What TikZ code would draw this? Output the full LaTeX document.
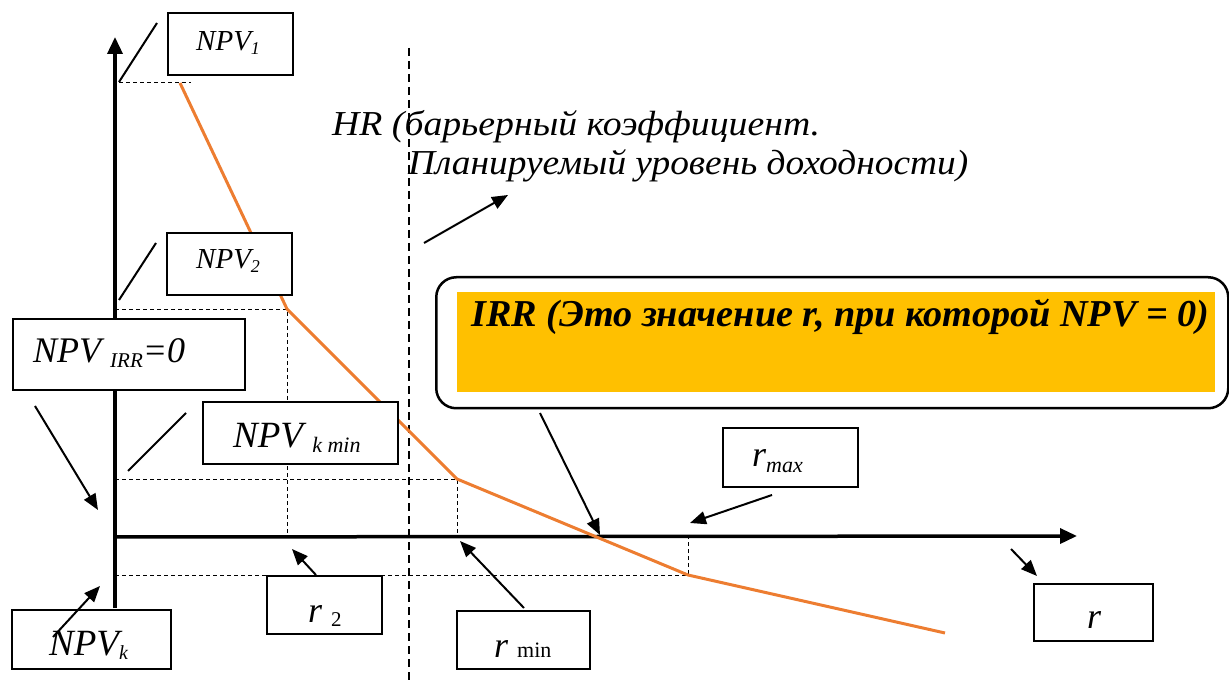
\documentclass[tikz,border=0pt]{standalone}
\usepackage{fontspec}
\setmainfont{Liberation Serif}
\usetikzlibrary{arrows.meta}
\definecolor{curve}{HTML}{ED7D31}
\definecolor{gold}{HTML}{FFC000}
\newcommand\subt[3]{\raisebox{-#1pt}{\fontsize{#2}{#2}\selectfont #3}}
\newcommand\fs[1]{\fontsize{#1}{#1}\selectfont}
\begin{document}
\begin{tikzpicture}[x=1pt,y=-1pt,
  box/.style={draw, line width=2pt, fill=white, anchor=north west, inner sep=0pt},
  lbl/.style={anchor=base west, inner sep=0pt, font=\itshape},
  helper/.style={line width=0.9pt, dash pattern=on 4pt off 3pt},
  hrline/.style={line width=1.6pt, dash pattern=on 8pt off 5pt},
  axis/.style={line width=3.5pt, -{Triangle[length=17pt,width=15pt]}},
  ptr/.style={line width=2pt, -{Triangle[length=16pt,width=13pt]}},
  tickline/.style={line width=2pt},
]
\useasboundingbox (0,0) rectangle (1229,684);

% helper dashed lines
\draw[helper] (119,82) -- (191,82);
\draw[helper] (115,309) -- (287,309) -- (287,537);
\draw[helper] (115,479) -- (457,479) -- (457,537);
\draw[helper] (115,575) -- (688,575) -- (688,537);
\draw[hrline] (409,48) -- (409,684);

% axes
\coordinate (o) at (115,537);
\coordinate (ybot) at (115,608);
\coordinate (ytop) at (115,37);
\coordinate (xtip) at (1077,536);
\draw[axis] (ybot) -- (ytop);
\draw[axis] (o) -- (xtip);

% NPV curve
\draw[curve, line width=3pt, line join=round] (180,83) -- (287,309) -- (457,479) -- (688,575) -- (945,633);

% boxes
\node[box, minimum width=125pt, minimum height=62pt] (bnpv1) at (167,12) {};
\node[box, minimum width=125pt, minimum height=62pt] (bnpv2) at (166,232) {};
\node[box, minimum width=232pt, minimum height=71pt] (birr0) at (12,318) {};
\node[box, minimum width=195pt, minimum height=62pt] (bkmin) at (202,401) {};
\node[box, minimum width=115pt, minimum height=58pt] (br2) at (266,575) {};
\node[box, minimum width=159pt, minimum height=59pt] (bnpvk) at (11,609) {};
\node[box, minimum width=135pt, minimum height=59pt] (brmax) at (722,427) {};
\node[box, minimum width=133pt, minimum height=58pt] (brmin) at (456,610) {};
\node[box, minimum width=119pt, minimum height=57pt] (br) at (1033,583) {};

% texts in boxes
\node[lbl, font=\itshape\fs{29}] (tnpv1) at (196,51) {NPV\subt{4}{18}{1}};
\node[lbl, font=\itshape\fs{29}] (tnpv2) at (196,269) {NPV\subt{4}{18}{2}};
\node[lbl, font=\itshape\fs{36}] (tirr0) at (33,363) {NPV \subt{5}{21}{IRR}=0};
\node[lbl, font=\itshape\fs{37}] (tkmin) at (233,447) {NPV \subt{5}{22}{k min}};
\node[lbl, font=\itshape\fs{37}] (tnpvk) at (49,655) {NPV\subt{4}{20}{k}};
\node[lbl, font=\itshape\fs{36}] (tr2) at (308,622) {r \subt{4}{21}{\upshape 2}};
\node[lbl, font=\itshape\fs{36}] (trmax) at (752,466) {r\subt{6}{22}{max}};
\node[lbl, font=\itshape\fs{36}] (trmin) at (494,657) {r \subt{0}{22}{\upshape min}};
\node[lbl, font=\itshape\fs{36}] (tr) at (1087,628) {r};

% HR text
\node[lbl] (hr1) at (332,136) {\resizebox{488pt}{\height}{\itshape\fs{35}HR (барьерный коэффициент.}};
\node[lbl] (hr2) at (408,175) {\resizebox{560pt}{\height}{\itshape\fs{35}Планируемый уровень доходности)}};

% IRR box
\node[draw, line width=2.5pt, rounded corners=20pt, anchor=north west, inner sep=0pt,
      minimum width=792pt, minimum height=131pt] (birr) at (435,276) {};
\node[fill=gold, anchor=north west, inner sep=0pt, minimum width=758pt, minimum height=100pt] (girr) at (457,292) {};
\node[anchor=base west, inner sep=0pt] (tirr) at (471,327)
  {\resizebox{738pt}{\height}{\bfseries\itshape\fs{38}IRR (Это значение r, при которой NPV = 0)}};

% tick lines (no heads)
\coordinate (s1a) at (119,82);  \coordinate (s1b) at (157,23);
\coordinate (s2a) at (119,300); \coordinate (s2b) at (156,243);
\coordinate (s3a) at (128,471); \coordinate (s3b) at (186,413);
\draw[tickline] (s1a) -- (s1b);
\draw[tickline] (s2a) -- (s2b);
\draw[tickline] (s3a) -- (s3b);

% pointer arrows
\coordinate (a1s) at (35,406);   \coordinate (a1e) at (98,510);
\coordinate (a2s) at (53,637);   \coordinate (a2e) at (100,586);
\coordinate (a3s) at (316,575);  \coordinate (a3e) at (292,549);
\coordinate (a4s) at (524,608);  \coordinate (a4e) at (460,541);
\coordinate (a5s) at (540,413);  \coordinate (a5e) at (600,535);
\coordinate (a6s) at (772,495);  \coordinate (a6e) at (690,523);
\coordinate (a7s) at (1011,549); \coordinate (a7e) at (1037,576);
\coordinate (a8s) at (424,243);  \coordinate (a8e) at (508,195);
\foreach \i in {1,...,8} {\draw[ptr] (a\i s) -- (a\i e);}
\end{tikzpicture}
\end{document}
